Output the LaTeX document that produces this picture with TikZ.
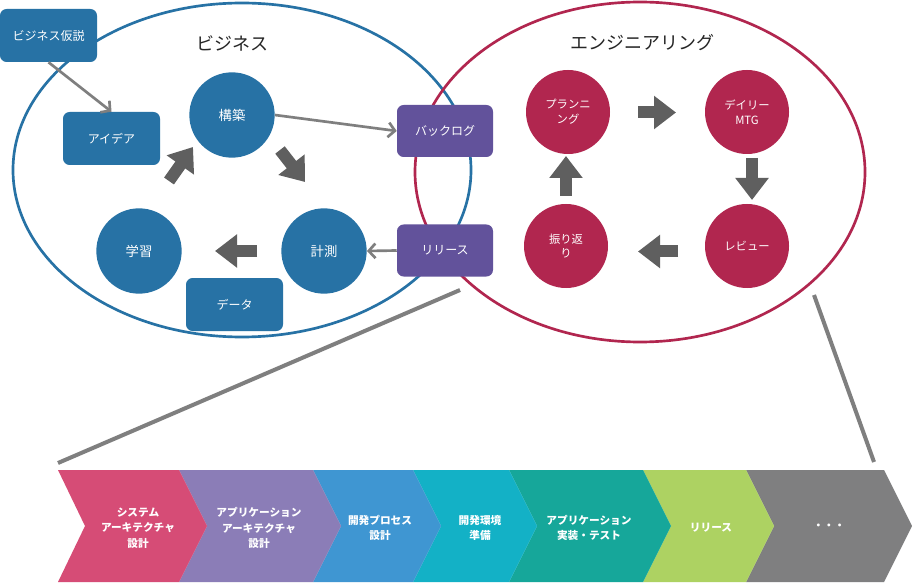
\documentclass[tikz,border=0pt]{standalone}
\usepackage{fontspec}
\setmainfont{Noto Sans CJK JP}
\usetikzlibrary{arrows.meta}
\definecolor{bizblue}{HTML}{2772A5}
\definecolor{engred}{HTML}{B1264F}
\definecolor{boxpurple}{HTML}{62529B}
\definecolor{arrowgray}{HTML}{5F5F5F}
\definecolor{linegray}{HTML}{7F7F7F}
\definecolor{titlegray}{HTML}{262626}
\definecolor{cpink}{HTML}{D64C76}
\definecolor{cpurple}{HTML}{8B7DB7}
\definecolor{cblue}{HTML}{3F96D2}
\definecolor{ccyan}{HTML}{13B1C6}
\definecolor{cteal}{HTML}{16A79A}
\definecolor{cgreen}{HTML}{ADD262}
\definecolor{cgray}{HTML}{7F7F80}
\newcommand\chevshape[3]{\fill[#3] (#1,470) -- (#2,470) -- ({#2+28},526) -- (#2,582) -- (#1,582) -- ({#1+28},526) -- cycle;}
\begin{document}
\begin{tikzpicture}[x=0.75pt,y=-0.75pt,
  bizbox/.style={rectangle, rounded corners=5pt, fill=bizblue, text=white, minimum width=72.75pt, minimum height=39.75pt, font=\fontsize{9}{11}\selectfont, inner sep=0pt, align=center},
  purplebox/.style={bizbox, fill=boxpurple, minimum width=72pt, minimum height=39pt},
  bizcircle/.style={circle, fill=bizblue, text=white, minimum size=64pt, inner sep=0pt, font=\fontsize{10}{12}\selectfont, align=center},
  engcircle/.style={circle, fill=engred, text=white, minimum size=63pt, inner sep=0pt, font=\fontsize{8.5}{11}\selectfont, align=center},
  thinarrow/.style={draw=linegray, line width=2pt, -{Straight Barb[length=5pt,width=11pt,line width=2pt]}},
  blockarrow/.style={draw=arrowgray, line width=9pt, -{Triangle[length=16.5pt,width=24pt]}},
  zoomline/.style={draw=linegray, line width=3pt},
  titletext/.style={text=titlegray, font=\fontsize{13.5}{16}\selectfont},
  chevtext/.style={text=white, font=\fontsize{8}{11.5}\selectfont\bfseries, align=center}
]
\useasboundingbox (0,0) rectangle (912,584);
\fill[white] (0,0) rectangle (912,584);

% ellipses
\draw[bizblue, line width=2pt] (242,170) ellipse [x radius=171.75pt, y radius=125.25pt];
\draw[engred, line width=2pt] (640,172) ellipse [x radius=168.75pt, y radius=127.5pt];

\node[titletext] (biztitle) at (232,43) {ビジネス};
\node[titletext] (engtitle) at (642,43) {エンジニアリング};

% business nodes
\node[bizbox] (hyp) at (48.5,35.5) {ビジネス仮説};
\node[bizbox] (idea) at (111.5,138.5) {アイデア};
\node[bizbox] (data) at (234.5,304.5) {データ};
\node[bizcircle] (build) at (232,115) {構築};
\node[bizcircle] (measure) at (324,251) {計測};
\node[bizcircle] (learn) at (139,251) {学習};

\node[purplebox] (backlog) at (445,131) {バックログ};
\node[purplebox] (release) at (445,250.5) {リリース};

% engineering nodes
\node[engcircle] (plan) at (568,112) {プランニ\\ング};
\node[engcircle] (daily) at (747,112) {デイリー\\MTG};
\node[engcircle] (review) at (747,246) {レビュー};
\node[engcircle] (retro) at (566,246) {振り返\\り};

% thin arrows
\draw[thinarrow] (hyp.south) -- (idea.north);
\draw[thinarrow] (build.east) -- (backlog.west);
\draw[thinarrow] (release.west) -- (measure.east);

% block arrows
\coordinate (a1s) at (169,181); \coordinate (a1e) at (193,147);
\coordinate (a2s) at (280,150); \coordinate (a2e) at (305,182);
\coordinate (a3s) at (257,251); \coordinate (a3e) at (215,251);
\coordinate (a4s) at (638,112.5); \coordinate (a4e) at (676,112.5);
\coordinate (a5s) at (752,158); \coordinate (a5e) at (752,200);
\coordinate (a6s) at (678,251.5); \coordinate (a6e) at (638,251.5);
\coordinate (a7s) at (566,196); \coordinate (a7e) at (566,156);
\draw[blockarrow] (a1s) -- (a1e);
\draw[blockarrow] (a2s) -- (a2e);
\draw[blockarrow] (a3s) -- (a3e);
\draw[blockarrow] (a4s) -- (a4e);
\draw[blockarrow] (a5s) -- (a5e);
\draw[blockarrow] (a6s) -- (a6e);
\draw[blockarrow] (a7s) -- (a7e);

% zoom lines
\coordinate (zl1) at (460,290); \coordinate (zl2) at (58,463);
\coordinate (zr1) at (814,295); \coordinate (zr2) at (874,462);
\draw[zoomline] (zl1) -- (zl2);
\draw[zoomline] (zr1) -- (zr2);

% chevrons
\chevshape{746}{884}{cgray}
\chevshape{643}{746}{cgreen}
\chevshape{509}{643}{cteal}
\chevshape{413}{509}{ccyan}
\chevshape{313}{413}{cblue}
\chevshape{179}{313}{cpurple}
\fill[cpink] (58,470) -- (179,470) -- (207,526) -- (179,582) -- (58,582) -- (85,526) -- cycle;

\node[chevtext] (c1) at (138,528) {システム\\アーキテクチャ\\設計};
\node[chevtext] (c2) at (259,528) {アプリケーション\\アーキテクチャ\\設計};
\node[chevtext] (c3) at (380,528) {開発プロセス\\設計};
\node[chevtext] (c4) at (480,528) {開発環境\\準備};
\node[chevtext] (c5) at (589,528) {アプリケーション\\実装・テスト};
\node[chevtext] (c6) at (711,528) {リリース};
\node[chevtext] (c7) at (829,527) {・・・};
\end{tikzpicture}
\end{document}
